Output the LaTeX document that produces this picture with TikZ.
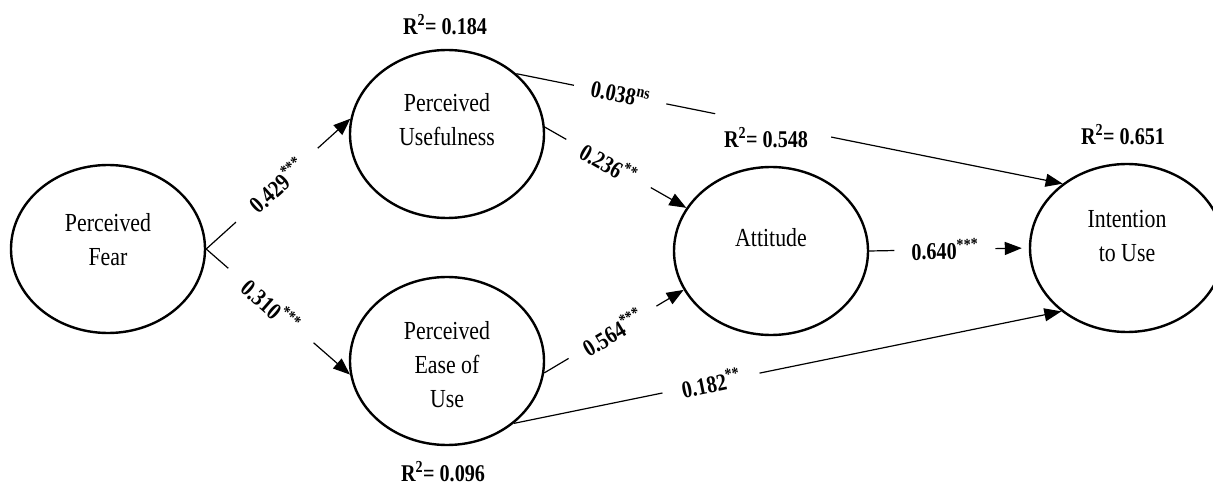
\documentclass[tikz,border=0pt]{standalone}
\usepackage{fontspec}
\setmainfont{Liberation Serif}[FakeStretch=0.84]
\usetikzlibrary{arrows.meta,shapes.geometric}
\begin{document}
\begin{tikzpicture}[x=1pt,y=-1pt,
  lv/.style={draw, ellipse, line width=2.4pt, minimum width=194pt, minimum height=168pt, inner sep=0pt},
  lt/.style={align=center, font=\fontsize{26}{34}\selectfont},
  conn/.style={line width=1.2pt, -{Triangle[length=17pt,width=13pt]}},
  gapnode/.style={sloped, fill=white, inner sep=0pt, minimum height=8pt},
  coef/.style={gapnode, font=\bfseries\fontsize{24}{28}\selectfont},
  rsq/.style={font=\bfseries\fontsize{24}{28}\selectfont}]
\useasboundingbox (0,0) rectangle (1213,486);
\clip (0,0) rectangle (1213,486);

% latent variables
\node[lv] (PF) at (108,249) {};
\node[lv] (PU) at (447,134) {};
\node[lv] (PE) at (447,361) {};
\node[lv] (AT) at (771,251) {};
\node[lv] (IU) at (1127,248) {};

\node[lt] (PFt) at ([yshift=9pt]PF.center) {Perceived\\Fear};
\node[lt] (PUt) at ([yshift=14pt]PU.center) {Perceived\\Usefulness};
\node[lt] (PEt) at ([yshift=-4pt]PE.center) {Perceived\\Ease of\\Use};
\node[lt] (ATt) at ([yshift=13pt]AT.center) {Attitude};
\node[lt] (IUt) at ([yshift=12pt]IU.center) {Intention\\to Use};

% paths
\draw[conn] (PF.east) -- node[coef, pos=0.49, minimum width=110pt] {0.429\textsuperscript{***}} (PU.171.8);
\draw[conn] (PF.east) -- node[coef, pos=0.45, minimum width=113pt] {0.310\textsuperscript{***}} (PE.188.2);
\draw[conn] (PU.4) -- node[coef, pos=0.45, minimum width=97pt] {0.236\textsuperscript{**}} (AT.153.2);
\draw[conn] (PE.353.6) -- node[coef, pos=0.49, minimum width=102pt] {0.564\textsuperscript{***}} (AT.204.3);
\draw[conn] (PU.41.5) -- node[coef, pos=0.19, minimum width=94pt] {0.038\textsuperscript{ns}}
  node[gapnode, pos=0.47, minimum width=118pt] {} (IU.135.9);
\draw[conn] (PE.317.6) -- node[coef, pos=0.36, minimum width=99pt] {0.182\textsuperscript{**}} (IU.224.1);
\draw[conn, shorten >=7pt] (AT.east) -- node[coef, pos=0.474, minimum width=101pt] {0.640\textsuperscript{***}} (IU.west);

% R squared
\node[rsq] (r1) at (445,25) {R\textsuperscript{2}= 0.184};
\node[rsq] (r2) at (443,472) {R\textsuperscript{2}= 0.096};
\node[rsq] (r3) at (766,138) {R\textsuperscript{2}= 0.548};
\node[rsq] (r4) at (1123,135) {R\textsuperscript{2}= 0.651};
\end{tikzpicture}
\end{document}
